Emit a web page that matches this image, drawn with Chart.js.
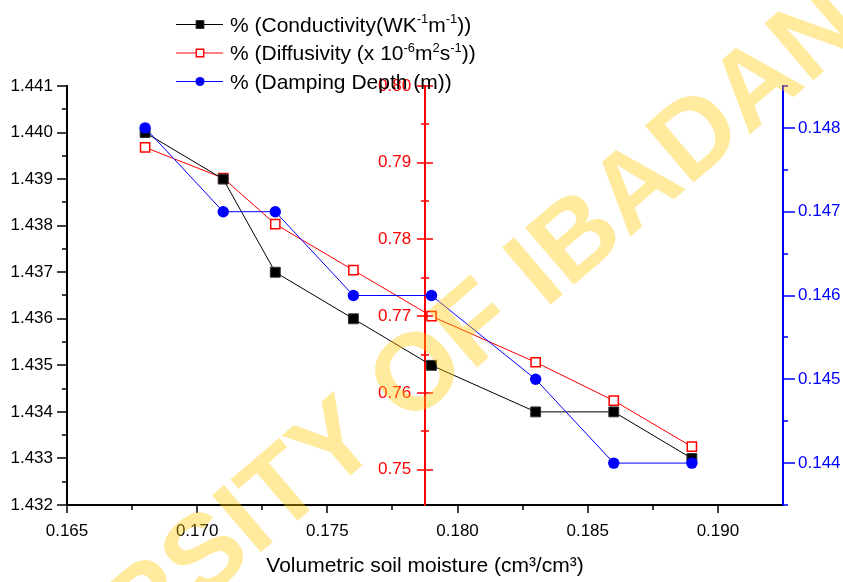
<!DOCTYPE html>
<html>
<head>
<meta charset="utf-8">
<script src="https://cdn.jsdelivr.net/npm/chart.js@4.4.1/dist/chart.umd.min.js"></script>
<style>
html,body{margin:0;padding:0;background:#fff;}
#wrap{width:843px;height:582px;position:relative;}
</style>
</head>
<body>
<div id="wrap"><canvas id="c" width="843" height="582"></canvas></div>
<script>
// ---------- data ----------
const moisture      = [0.168, 0.171, 0.173, 0.176, 0.179, 0.183, 0.186, 0.189];
const conductivity  = [1.440, 1.439, 1.437, 1.436, 1.435, 1.434, 1.434, 1.433];
const diffusivity   = [0.792, 0.788, 0.782, 0.776, 0.770, 0.764, 0.759, 0.753];
const dampingDepth  = [0.148, 0.147, 0.147, 0.146, 0.146, 0.145, 0.144, 0.144];

// ---------- tick labels ----------
const xTickLabels     = ['0.165', '0.170', '0.175', '0.180', '0.185', '0.190'];
const leftTickLabels  = ['1.432', '1.433', '1.434', '1.435', '1.436', '1.437', '1.438', '1.439', '1.440', '1.441'];
const diffTickLabels  = ['0.75', '0.76', '0.77', '0.78', '0.79', '0.80'];
const rightTickLabels = ['0.144', '0.145', '0.146', '0.147', '0.148'];

const seriesLabels = ['% (Conductivity(WK⁻¹m⁻¹))', '% (Diffusivity (x 10⁻⁶m²s⁻¹))', '% (Damping Depth (m))'];
const legendRows = [
  [{t: '% (Conductivity(WK'}, {t: '-1', sup: true}, {t: 'm'}, {t: '-1', sup: true}, {t: '))'}],
  [{t: '% (Diffusivity (x 10'}, {t: '-6', sup: true}, {t: 'm'}, {t: '2', sup: true}, {t: 's'}, {t: '-1', sup: true}, {t: '))'}],
  [{t: '% (Damping Depth (m))'}]
];
const xTitle = 'Volumetric soil moisture (cm³/cm³)';
const watermarkText = 'UNIVERSITY OF IBADAN';

const FONT = "'Liberation Sans', Arial, Helvetica, sans-serif";
Chart.defaults.font.family = FONT;

const redAxisAt = 0.17875;      // x value where the red axis line sits
const redLabelsAt = 0.17822;    // x value where the red axis labels end

function ticksFrom(labels) {
  return (scale) => { scale.ticks = labels.map(l => ({value: parseFloat(l)})); };
}
function labelFrom(labels) {
  return (v, i) => labels[i];
}

// ---------- plugins ----------
const bgPlugin = {
  id: 'bg',
  beforeDraw(chart) {
    const ctx = chart.ctx;
    ctx.save();
    ctx.fillStyle = '#fff';
    ctx.fillRect(0, 0, chart.width, chart.height);
    ctx.restore();
  }
};

function majorsMinors(labels, min, max) {
  const majors = labels.map(parseFloat);
  const step = majors[1] - majors[0];
  const minors = [];
  for (let i = -1; i < majors.length; i++) {
    const m = (i < 0 ? majors[0] - step / 2 : majors[i] + step / 2);
    if (m >= min - 1e-9 && m <= max + 1e-9) minors.push(m);
  }
  return {majors, minors};
}

const tickPlugin = {
  id: 'tickMarks',
  afterDraw(chart) {
    const ctx = chart.ctx;
    const ca = chart.chartArea;
    const s = chart.scales;
    ctx.save();
    ctx.lineWidth = 1.5;
    {
      const {majors, minors} = majorsMinors(xTickLabels, s.x.min, s.x.max - 1e-5);
      ctx.strokeStyle = '#000';
      ctx.beginPath();
      majors.forEach(v => { const x = Math.round(s.x.getPixelForValue(v)); ctx.moveTo(x, ca.bottom); ctx.lineTo(x, ca.bottom + 8); });
      minors.forEach(v => { const x = Math.round(s.x.getPixelForValue(v)); ctx.moveTo(x, ca.bottom); ctx.lineTo(x, ca.bottom + 5); });
      ctx.stroke();
    }
    {
      const {majors, minors} = majorsMinors(leftTickLabels, s.y.min, s.y.max);
      ctx.strokeStyle = '#000';
      ctx.beginPath();
      majors.forEach(v => { const y = Math.round(s.y.getPixelForValue(v)); ctx.moveTo(ca.left - 10, y); ctx.lineTo(ca.left, y); });
      minors.forEach(v => { const y = Math.round(s.y.getPixelForValue(v)); ctx.moveTo(ca.left - 5, y); ctx.lineTo(ca.left, y); });
      ctx.stroke();
    }
    {
      const {majors, minors} = majorsMinors(diffTickLabels, s.yD.min, s.yD.max);
      const ax = Math.round(s.x.getPixelForValue(redAxisAt));
      ctx.strokeStyle = '#ff0000';
      ctx.beginPath();
      majors.forEach(v => { const y = Math.round(s.yD.getPixelForValue(v)); ctx.moveTo(ax - 8, y); ctx.lineTo(ax + 8, y); });
      minors.forEach(v => { const y = Math.round(s.yD.getPixelForValue(v)); ctx.moveTo(ax - 4, y); ctx.lineTo(ax + 4, y); });
      ctx.stroke();
    }
    {
      const {majors, minors} = majorsMinors(rightTickLabels, s.yR.min, s.yR.max);
      ctx.strokeStyle = '#0000ff';
      ctx.beginPath();
      majors.forEach(v => { const y = Math.round(s.yR.getPixelForValue(v)); ctx.moveTo(ca.right, y); ctx.lineTo(ca.right + 12, y); });
      minors.forEach(v => { const y = Math.round(s.yR.getPixelForValue(v)); ctx.moveTo(ca.right, y); ctx.lineTo(ca.right + 5, y); });
      ctx.stroke();
    }
    ctx.restore();
  }
};

const legendPlugin = {
  id: 'richLegend',
  afterDraw(chart) {
    const ctx = chart.ctx;
    ctx.save();
    const x0 = 176, x1 = 223, xm = 200, xt = 230;
    const rowY = [24, 52.5, 81];
    chart.data.datasets.forEach((ds, i) => {
      const y = rowY[i];
      ctx.strokeStyle = ds.borderColor;
      ctx.lineWidth = 1;
      ctx.beginPath(); ctx.moveTo(x0, y + 0.5); ctx.lineTo(x1, y + 0.5); ctx.stroke();
      ctx.fillStyle = ds.pointBackgroundColor;
      ctx.strokeStyle = ds.pointBorderColor;
      ctx.lineWidth = ds.pointBorderWidth;
      Chart.helpers.drawPoint(ctx, {pointStyle: ds.pointStyle, radius: ds.pointRadius * 0.8, rotation: 0, borderWidth: ds.pointBorderWidth}, xm, y + 0.5);
      let x = xt;
      ctx.fillStyle = '#000';
      ctx.textBaseline = 'alphabetic';
      ctx.textAlign = 'left';
      legendRows[i].forEach(seg => {
        if (seg.sup) {
          ctx.font = '13px ' + FONT;
          ctx.fillText(seg.t, x, y - 1);
        } else {
          ctx.font = '21px ' + FONT;
          ctx.fillText(seg.t, x, y + 7.5);
        }
        x += ctx.measureText(seg.t).width;
      });
    });
    ctx.restore();
  }
};

const watermarkPlugin = {
  id: 'watermark',
  afterDraw(chart) {
    const ctx = chart.ctx;
    ctx.save();
    ctx.fillStyle = 'rgba(255, 200, 0, 0.38)';
    const size = 109;
    ctx.font = 'bold ' + size + 'px ' + FONT;
    ctx.textBaseline = 'alphabetic';
    ctx.textAlign = 'left';
    const ang = -40.5 * Math.PI / 180;
    const pre = ctx.measureText('UNIVERSITY ').width;
    const oW = ctx.measureText('O').width;
    const along = pre + oW / 2;
    const cap = size * 0.716 / 2;
    const ux = Math.cos(ang), uy = Math.sin(ang);
    const dx = -Math.sin(ang), dy = Math.cos(ang);
    const bx = 414 + cap * dx, by = 370 + cap * dy;
    const sx = bx - along * ux, sy = by - along * uy;
    ctx.translate(sx, sy);
    ctx.rotate(ang);
    ctx.fillText(watermarkText, 0, 0);
    ctx.restore();
  }
};

// ---------- chart ----------
const tickFont = {family: FONT, size: 17};

new Chart(document.getElementById('c'), {
  type: 'line',
  data: {
    datasets: [
      {
        label: seriesLabels[0],
        data: moisture.map((x, i) => ({x, y: conductivity[i]})),
        yAxisID: 'y',
        borderColor: '#000000', borderWidth: 1,
        pointStyle: 'rect', pointRadius: 7, pointHoverRadius: 7,
        pointBackgroundColor: '#000000', pointBorderColor: '#333333', pointBorderWidth: 1,
        fill: false, tension: 0, order: 2
      },
      {
        label: seriesLabels[1],
        data: moisture.map((x, i) => ({x, y: diffusivity[i]})),
        yAxisID: 'yD',
        borderColor: '#ff0000', borderWidth: 1,
        pointStyle: 'rect', pointRadius: 6.5, pointHoverRadius: 6.5,
        pointBackgroundColor: '#ffffff', pointBorderColor: '#ff0000', pointBorderWidth: 1.5,
        fill: false, tension: 0, order: 3
      },
      {
        label: seriesLabels[2],
        data: moisture.map((x, i) => ({x, y: dampingDepth[i]})),
        yAxisID: 'yR',
        borderColor: '#0000ff', borderWidth: 1,
        pointStyle: 'circle', pointRadius: 5.7, pointHoverRadius: 5.7,
        pointBackgroundColor: '#0000ff', pointBorderColor: '#0000ff', pointBorderWidth: 0,
        fill: false, tension: 0, order: 1
      }
    ]
  },
  options: {
    responsive: false,
    animation: false,
    devicePixelRatio: 1,
    layout: {padding: {top: 86, left: 0, right: 0, bottom: 0}},
    plugins: {legend: {display: false}, tooltip: {enabled: false}, title: {display: false}},
    scales: {
      x: {
        type: 'linear', position: 'bottom',
        min: 0.165, max: 0.1925,
        afterBuildTicks: ticksFrom(xTickLabels),
        afterFit: (s) => { s.height = 77; },
        ticks: {callback: labelFrom(xTickLabels), color: '#000', font: tickFont, padding: 8, autoSkip: false, maxRotation: 0},
        grid: {drawOnChartArea: false, drawTicks: true, tickLength: 8, tickColor: 'rgba(0,0,0,0)'},
        border: {display: true, color: '#000', width: 2},
        title: {display: true, text: xTitle, color: '#000', font: {family: FONT, size: 21}, padding: {top: 0, bottom: 3}}
      },
      y: {
        type: 'linear', position: 'left',
        min: 1.432, max: 1.441,
        afterBuildTicks: ticksFrom(leftTickLabels),
        afterFit: (s) => { s.width = 67; },
        ticks: {callback: labelFrom(leftTickLabels), color: '#000', font: tickFont, padding: 4, autoSkip: false},
        grid: {drawOnChartArea: false, drawTicks: true, tickLength: 10, tickColor: 'rgba(0,0,0,0)'},
        border: {display: true, color: '#000', width: 2}
      },
      yD: {
        type: 'linear', position: {x: redLabelsAt},
        min: 0.7454, max: 0.80,
        afterBuildTicks: ticksFrom(diffTickLabels),
        afterFit: (s) => { s.width = 0; },
        ticks: {callback: labelFrom(diffTickLabels), color: '#ff0000', font: tickFont, padding: 0, autoSkip: false},
        grid: {display: false, drawOnChartArea: false, drawTicks: false},
        border: {display: false}
      },
      yDLine: {
        type: 'linear', position: {x: redAxisAt},
        min: 0.7454, max: 0.80,
        afterFit: (s) => { s.width = 0; },
        ticks: {display: false},
        grid: {drawOnChartArea: false, drawTicks: false},
        border: {display: true, color: '#ff0000', width: 2}
      },
      yR: {
        type: 'linear', position: 'right',
        min: 0.1435, max: 0.1485,
        afterBuildTicks: ticksFrom(rightTickLabels),
        afterFit: (s) => { s.width = 60; },
        ticks: {callback: labelFrom(rightTickLabels), color: '#0000ff', font: tickFont, padding: 4, autoSkip: false},
        grid: {drawOnChartArea: false, drawTicks: true, tickLength: 11, tickColor: 'rgba(0,0,0,0)'},
        border: {display: true, color: '#0000ff', width: 2}
      }
    }
  },
  plugins: [bgPlugin, tickPlugin, legendPlugin, watermarkPlugin]
});
</script>
</body>
</html>
